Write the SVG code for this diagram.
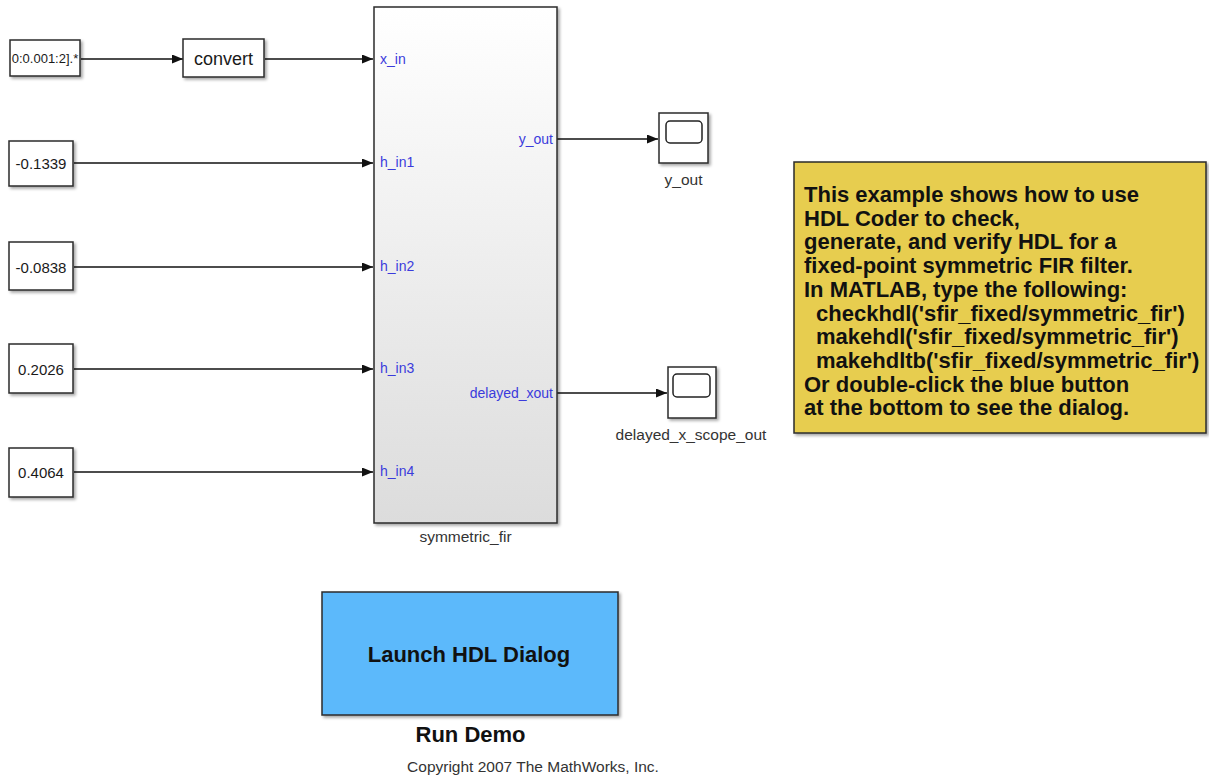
<svg xmlns="http://www.w3.org/2000/svg" width="1209" height="776" viewBox="0 0 1209 776">
<style>
text{font-family:"Liberation Sans",Arial,sans-serif;fill:#1a1a1a}
.blk{fill:#fff;stroke:#2b2b2b;stroke-width:1.5;filter:url(#sh)}
.val{font-size:15px;text-anchor:middle}
.lbl{font-size:15.5px;text-anchor:middle;fill:#333}
.port{font-size:14px;fill:#3b3bdc}
.note{font-size:22px;font-weight:bold;fill:#111}
.wire{stroke:#111;stroke-width:1.3;fill:none;marker-end:url(#ah)}
</style>
<defs>
<filter id="sh" x="-10%" y="-10%" width="130%" height="130%"><feDropShadow dx="2" dy="2" stdDeviation="1.5" flood-color="#000" flood-opacity="0.35"/></filter>
<marker id="ah" markerWidth="11" markerHeight="9" refX="11" refY="4.5" orient="auto" markerUnits="userSpaceOnUse"><path d="M0,0 L11,4.5 L0,9 Z" fill="#111"/></marker>
<linearGradient id="g" x1="0" y1="0" x2="0" y2="1"><stop offset="0" stop-color="#ffffff"/><stop offset="1" stop-color="#dcdcdc"/></linearGradient>
</defs>
<g id="connectors">
<path class="wire" d="M81,59 L183,59"/>
<path class="wire" d="M265,59 L373,59"/>
<path class="wire" d="M74,163 L373,163"/>
<path class="wire" d="M74,267 L373,267"/>
<path class="wire" d="M74,369 L373,369"/>
<path class="wire" d="M74,472 L373,472"/>
<path class="wire" d="M557,139 L658,139"/>
<path class="wire" d="M557,393 L667,393"/>
</g>
<g id="const_t">
<rect class="blk" x="10" y="40" width="70" height="36"/>
<text x="45" y="63" style="font-size:13px;text-anchor:middle">0:0.001:2].*</text>
</g>
<g id="convert">
<rect class="blk" x="183" y="39" width="81" height="38"/>
<text x="223.5" y="64.5" style="font-size:18px;text-anchor:middle">convert</text>
</g>
<g id="c1">
<rect class="blk" x="9" y="141" width="64" height="45"/>
<text class="val" x="41" y="168.5">-0.1339</text>
</g>
<g id="c2">
<rect class="blk" x="9" y="242" width="64" height="48"/>
<text class="val" x="41" y="272.5">-0.0838</text>
</g>
<g id="c3">
<rect class="blk" x="9" y="344" width="64" height="49"/>
<text class="val" x="41" y="374.5">0.2026</text>
</g>
<g id="c4">
<rect class="blk" x="9" y="448" width="64" height="49"/>
<text class="val" x="41" y="477.5">0.4064</text>
</g>
<g id="symmetric_fir">
<rect x="374" y="7" width="183" height="516" fill="url(#g)" stroke="#2b2b2b" stroke-width="1.5" filter="url(#sh)"/>
<text class="port" x="380" y="64">x_in</text>
<text class="port" x="380" y="167">h_in1</text>
<text class="port" x="380" y="271">h_in2</text>
<text class="port" x="380" y="373">h_in3</text>
<text class="port" x="380" y="476">h_in4</text>
<text class="port" x="553" y="144" text-anchor="end">y_out</text>
<text class="port" x="553" y="398" text-anchor="end">delayed_xout</text>
<text class="lbl" x="465.5" y="542">symmetric_fir</text>
</g>
<g id="scope_y">
<rect class="blk" x="659" y="113" width="49" height="50"/>
<rect x="666" y="121" width="36" height="22" rx="4" fill="#fff" stroke="#222" stroke-width="1.5"/>
<text class="lbl" x="683.5" y="185">y_out</text>
</g>
<g id="scope_d">
<rect class="blk" x="668" y="367" width="48" height="51"/>
<rect x="673" y="374" width="37" height="23" rx="4" fill="#fff" stroke="#222" stroke-width="1.5"/>
<text class="lbl" x="691" y="440">delayed_x_scope_out</text>
</g>
<g id="note">
<rect x="794" y="162" width="412" height="271" fill="#e7cd4f" stroke="#2b2b2b" stroke-width="1.5" filter="url(#sh)"/>
<text class="note" x="804" y="202">This example shows how to use</text>
<text class="note" x="804" y="225.7">HDL Coder to check,</text>
<text class="note" x="804" y="249.4">generate, and verify HDL for a</text>
<text class="note" x="804" y="273.1">fixed-point symmetric FIR filter.</text>
<text class="note" x="804" y="296.8">In MATLAB, type the following:</text>
<text class="note" x="816" y="320.5">checkhdl('sfir_fixed/symmetric_fir')</text>
<text class="note" x="816" y="344.2">makehdl('sfir_fixed/symmetric_fir')</text>
<text class="note" x="816" y="367.9">makehdltb('sfir_fixed/symmetric_fir')</text>
<text class="note" x="804" y="391.6">Or double-click the blue button</text>
<text class="note" x="804" y="415.3">at the bottom to see the dialog.</text>
</g>
<g id="launch">
<rect x="322" y="592" width="296" height="123" fill="#5cb9fb" stroke="#2b2b2b" stroke-width="1.5" filter="url(#sh)"/>
<text x="469" y="662" style="font-size:22px;font-weight:bold;text-anchor:middle;fill:#111">Launch HDL Dialog</text>
<text x="470.5" y="742" style="font-size:22px;font-weight:bold;text-anchor:middle;fill:#111">Run Demo</text>
</g>
<text x="533" y="772" style="font-size:15.5px;text-anchor:middle;fill:#333">Copyright 2007 The MathWorks, Inc.</text>
</svg>
